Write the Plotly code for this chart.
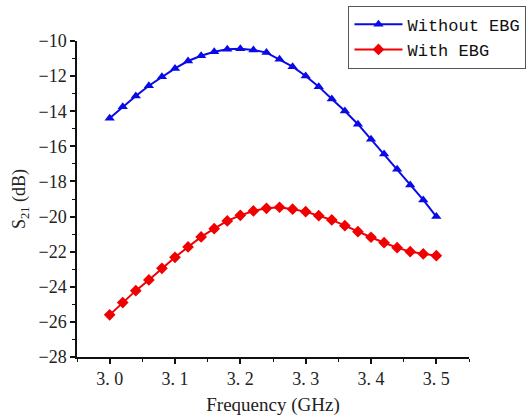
import plotly.graph_objects as go

freq = [3.00, 3.02, 3.04, 3.06, 3.08, 3.10, 3.12, 3.14, 3.16, 3.18, 3.20, 3.22, 3.24,
        3.26, 3.28, 3.30, 3.32, 3.34, 3.36, 3.38, 3.40, 3.42, 3.44, 3.46, 3.48, 3.50]
without_ebg = [-14.40, -13.74, -13.13, -12.55, -12.03, -11.56, -11.14, -10.84, -10.61,
               -10.47, -10.44, -10.51, -10.66, -11.04, -11.46, -11.99, -12.60, -13.30,
               -13.99, -14.74, -15.60, -16.44, -17.31, -18.20, -19.05, -20.00]
with_ebg = [-25.60, -24.90, -24.22, -23.61, -22.95, -22.32, -21.73, -21.16, -20.69,
            -20.25, -19.93, -19.68, -19.53, -19.47, -19.58, -19.72, -19.95, -20.19,
            -20.52, -20.86, -21.18, -21.49, -21.77, -22.00, -22.13, -22.23]
x_ticks = [3.0, 3.1, 3.2, 3.3, 3.4, 3.5]
x_ticktext = ["3. 0", "3. 1", "3. 2", "3. 3", "3. 4", "3. 5"]
y_ticks = [-28, -26, -24, -22, -20, -18, -16, -14, -12, -10]

fig = go.Figure()
fig.add_trace(go.Scatter(
    x=freq, y=without_ebg, name="Without EBG", mode="lines+markers",
    line=dict(color="#0a0ae6", width=2),
    marker=dict(symbol="triangle-up", size=9, color="#0a0ae6"),
))
fig.add_trace(go.Scatter(
    x=freq, y=with_ebg, name="With EBG", mode="lines+markers",
    line=dict(color="#f00000", width=2),
    marker=dict(symbol="diamond", size=9, color="#f00000"),
))

axis_font = dict(family="Liberation Serif", size=18, color="#222")
fig.update_layout(
    width=527, height=416,
    margin=dict(l=77, r=58, t=41, b=59, autoexpand=False),
    plot_bgcolor="white", paper_bgcolor="white",
    showlegend=True,
    legend=dict(
        xref="container", yref="container",
        x=0.999, y=0.986, xanchor="right", yanchor="top",
        bordercolor="#555", borderwidth=1, bgcolor="white",
        font=dict(family="Liberation Mono", size=17, color="#111"),
        itemwidth=48, tracegroupgap=0,
    ),
    xaxis=dict(
        range=[2.95, 3.55], tickvals=x_ticks, ticktext=x_ticktext,
        showline=True, linecolor="#111", linewidth=1.5, mirror=False,
        ticks="outside", ticklen=5, tickwidth=1.5, tickcolor="#111",
        minor=dict(dtick=0.05, tick0=2.95, ticks="outside", ticklen=3, tickcolor="#111", tickwidth=1),
        showgrid=False, zeroline=False, tickfont=axis_font,
        title=dict(text="Frequency (GHz)", font=dict(family="Liberation Serif", size=19, color="#222"), standoff=10),
    ),
    yaxis=dict(
        range=[-28, -10], tickvals=y_ticks,
        showline=True, linecolor="#111", linewidth=1.5, mirror=False,
        ticks="outside", ticklen=5, tickwidth=1.5, tickcolor="#111",
        minor=dict(dtick=1, ticks="outside", ticklen=3, tickcolor="#111", tickwidth=1),
        showgrid=False, zeroline=False, tickfont=axis_font,
        title=dict(text="S<sub>21</sub> (dB)", font=dict(family="Liberation Serif", size=18, color="#222"), standoff=8),
    ),
)

fig.write_html("out.html")
